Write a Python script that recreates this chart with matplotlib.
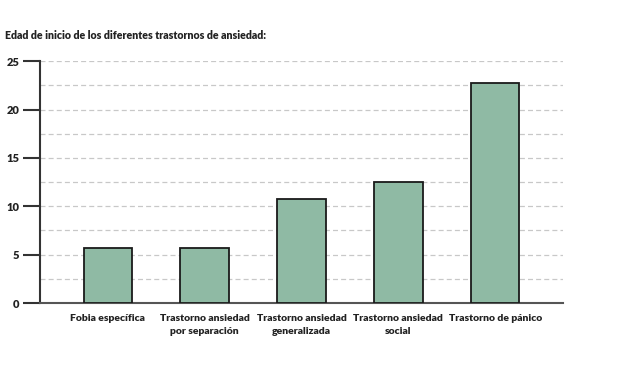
import numpy as np
import matplotlib.pyplot as plt

# edad media de inicio por trastorno
categories = ["Fobia específica", "Trastorno ansiedad\npor separación", "Trastorno ansiedad\ngeneralizada",
              "Trastorno ansiedad\nsocial", "Trastorno de pánico"]
ages = [5.7, 5.7, 10.8, 12.5, 22.7]
yticks = [0, 5, 10, 15, 20, 25]
title = "Edad de inicio de los diferentes trastornos de ansiedad:"

plt.rcParams['font.family'] = ['Lato', 'DejaVu Sans']
txt_color = "#222222"
wt = "heavy"

fig = plt.figure(figsize=(6.39, 3.66), dpi=100)
ax = fig.add_axes([0.0626, 0.172, 0.8185, 0.661])

xs = np.arange(len(categories))
ax.bar(xs, ages, width=0.5, color="#8fbaa4", edgecolor="#1a1a1a", linewidth=1.3, zorder=3)

# grid every 2.5, dashed
for g in np.arange(2.5, 25.1, 2.5):
    ax.axhline(g, color="#c8c8c8", linestyle=(0, (4, 2.5)), linewidth=0.9, zorder=1)

ax.set_xlim(-0.7, 4.7)
ax.set_ylim(0, 25)
ax.set_yticks(yticks)
ax.set_yticklabels([str(t) for t in yticks], fontsize=8, fontweight=wt, color=txt_color)
ax.set_xticks(xs)
ax.set_xticklabels(categories, fontsize=7.5, fontweight=wt, color=txt_color, linespacing=1.5)
ax.tick_params(axis="y", length=12, width=1.5, color="#333333", pad=3)
ax.tick_params(axis="x", length=0, pad=8)

for s in ["top", "right"]:
    ax.spines[s].set_visible(False)
ax.spines["left"].set_color("#333333")
ax.spines["left"].set_linewidth(1.5)
ax.spines["bottom"].set_color("#555555")
ax.spines["bottom"].set_linewidth(1.5)

fig.text(0.008, 0.893, title, fontsize=7.7, fontweight=wt, color=txt_color)

fig.savefig("out.png", dpi=100)
